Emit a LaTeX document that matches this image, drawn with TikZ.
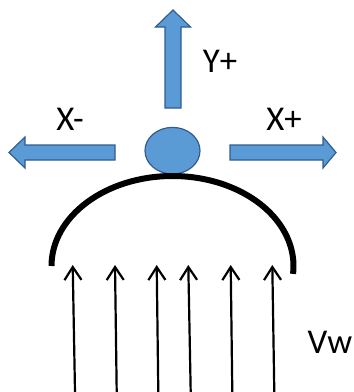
\documentclass[tikz,border=0pt]{standalone}
\usepackage{fontspec}
\setmainfont{Carlito}
\usetikzlibrary{arrows.meta,shapes.geometric}

\begin{document}
\begin{tikzpicture}[x=0.5pt,y=-0.5pt]
\definecolor{blockfill}{RGB}{91,155,213}
\definecolor{blockedge}{RGB}{49,92,145}
\tikzset{
  blockarrow/.style={fill=blockfill,draw=blockedge,line width=0.6pt,line join=miter},
  axislabel/.style={inner sep=0pt,font=\fontsize{17.4}{20}\selectfont},
  wind/.style={line width=1.1pt,-{Straight Barb[length=6.5pt,width=8.5pt,line width=1.1pt]}}
}
\useasboundingbox (0,0) rectangle (354,392);

% the three direction arrows round the ball
\draw[blockarrow] (165,108) -- (165,27) -- (155.5,27) -- (173,10) -- (190.5,27) -- (181,27) -- (181,108) -- cycle;
\draw[blockarrow] (115,145) -- (25,145) -- (25,137) -- (9,152.5) -- (25,168) -- (25,160) -- (115,160) -- cycle;
\draw[blockarrow] (230,145) -- (323,145) -- (323,137) -- (336,152.5) -- (323,168) -- (323,160) -- (230,160) -- cycle;
\node[axislabel] (ylab) at (220,61) {Y+};
\node[axislabel] (xmlab) at (70,119) {X-};
\node[axislabel] (xplab) at (284,119) {X+};

% ball resting on the top of the dome
\node[ellipse,fill=blockfill,draw=blockedge,line width=0.6pt,minimum width=27.5pt,minimum height=23.3pt,inner sep=0pt] (ball) at (172.5,150.7) {};

% the dome
\draw[line width=3pt] (51.5,266) arc[start angle=180,end angle=-5,x radius=60.5pt,y radius=45pt];

% wind from below
\foreach \i/\xb/\xt in {1/75/72.7,2/116.7/115,3/158.3/156.7,4/190.7/188.3,5/232.3/230.7,6/274.3/272.3}
{
  \coordinate (w\i-foot) at (\xb,392);
  \coordinate (w\i-tip) at (\xt,265);
  \draw[wind] (w\i-foot) -- (w\i-tip);
}
\node[axislabel] (vw) at (330,342.5) {Vw};
\end{tikzpicture}
\end{document}
